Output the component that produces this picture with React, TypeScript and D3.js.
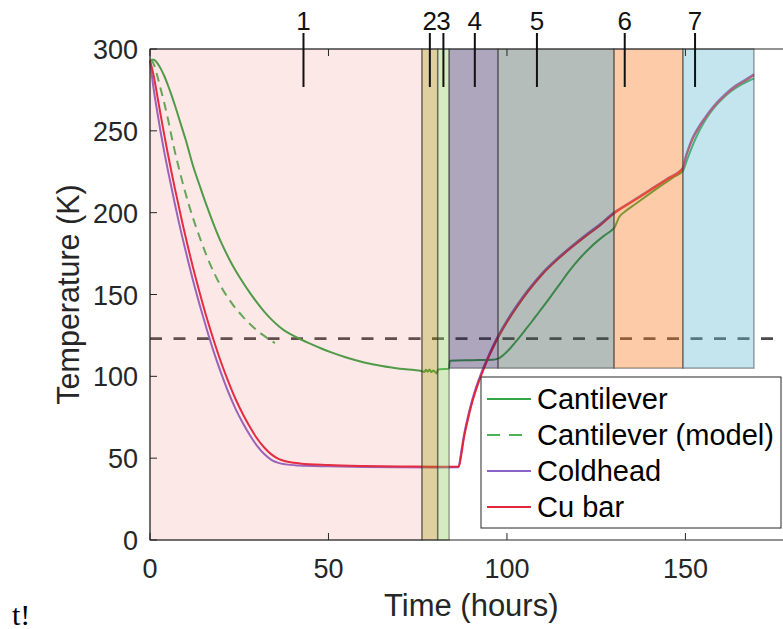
import React from 'react';
import * as d3 from 'd3';

// [time (h), temperature (K)]
const cantilever: [number, number][] = [
  [0, 292.5], [0.5, 293.5], [1, 293.5], [1.5, 292.8], [2, 291.5], [3, 288], [4, 283.5], [5, 278],
  [6, 272], [7, 265.5], [8, 258.5], [9, 251.5], [10, 244.5], [12, 229], [14, 216], [16, 203.5],
  [18, 192], [20, 181.5], [22, 172.5], [24, 164.5], [26, 157.5], [28, 151], [30, 145], [32, 139.5],
  [34, 134.8], [36, 130.8], [38, 127.5], [40, 125], [42, 122.8], [45, 119.8], [48, 117], [51, 114.5],
  [55, 111.5], [60, 108.5], [65, 106.3], [70, 104.7], [76, 103.3], [76.8, 102.6], [77.3, 104],
  [77.8, 102.8], [78.3, 104.2], [78.8, 102.6], [79.4, 103.5], [80.3, 101.8], [80.7, 104.2],
  [83.7, 104.7], [84, 109.5], [90, 109.9], [96, 110.2], [97.5, 110.8], [99, 113], [101, 117.3],
  [103, 122.5], [105, 128], [107, 133.5], [109, 139.3], [111, 145], [113, 151], [115, 157],
  [117, 163], [119, 168.5], [121, 173.5], [123, 178], [125, 182], [127, 185.5], [129, 188.7],
  [130, 190.5], [131.5, 197.5], [133, 200.5], [136, 205.3], [140, 211.6], [144, 217.7], [147, 222.1],
  [149.3, 225.5], [150.5, 232.5], [152, 241], [154, 250.5], [156, 258], [158, 264], [160, 268.8],
  [162, 272.8], [164, 276], [166, 278.7], [168, 280.8], [169.2, 282],
];

const cantileverModel: [number, number][] = [
  [0, 293], [0.5, 292.8], [1, 291], [1.5, 288], [2, 284], [3, 275.5], [4, 267], [5, 257.5],
  [6, 247], [7, 237], [8, 228], [9, 219.5], [10, 211.5], [12, 197], [14, 184.5], [16, 173],
  [18, 163], [20, 154.5], [22, 147.5], [24, 141.5], [26, 136.5], [28, 132], [30, 128],
  [32, 124.7], [34, 121.6], [35, 120.3],
];

const coldhead: [number, number][] = [
  [0, 293], [0.5, 284], [1, 276], [2, 262], [3, 249], [4, 237], [5, 226], [6, 215.5], [7, 205],
  [8, 195], [9, 185.5], [10, 176.5], [12, 159], [14, 143], [16, 128], [18, 114], [20, 101.5],
  [22, 90], [24, 80], [26, 71.5], [28, 64], [30, 57.5], [32, 52.5], [34, 49], [36, 47.1],
  [38, 46.2], [42, 45.5], [50, 45], [60, 44.6], [70, 44.4], [80, 44.3], [86.4, 44.4],
  [87.1, 52.5], [87.9, 63.5], [88.9, 73.8], [89.9, 82.8], [90.9, 90.3], [91.9, 96.8],
  [92.9, 102.6], [93.9, 108], [94.9, 113], [95.9, 117.8], [97.9, 126.3], [99.9, 133.8],
  [102.9, 143.8], [105.9, 152.8], [109.9, 163.2], [113.9, 171.7], [117.9, 179.2], [121.9, 186.2],
  [125.9, 192.7], [129.9, 200], [135, 207], [140, 214], [145, 221], [149.3, 227.5], [150, 233.8],
  [151, 240.3], [152, 245.8], [153.5, 251.8], [155, 256.8], [157.7, 264.7], [161, 272.2],
  [164, 277.6], [167, 281.6], [169.2, 284.6],
];

const cuBar: [number, number][] = [
  [0, 293], [1, 284], [2, 272], [3, 259.5], [4, 247.5], [5, 236], [6, 225], [7, 214.5],
  [8, 204.5], [9, 194.5], [10, 185], [12, 167], [14, 150.5], [16, 135], [18, 121], [20, 108],
  [22, 96.5], [24, 86], [26, 77], [28, 69], [30, 62], [32, 56.5], [34, 52.3], [36, 49.6],
  [38, 48.1], [42, 46.8], [50, 45.8], [60, 45.2], [70, 44.9], [80, 44.8], [86.5, 44.9],
  [87.2, 52], [88, 63], [89, 73], [90, 82], [91, 89.5], [92, 96], [93, 101.8], [94, 107.2],
  [95, 112.3], [96, 117], [98, 125.5], [100, 133], [103, 143], [106, 152], [110, 162.5],
  [114, 171], [118, 178.5], [122, 185.5], [126, 192], [130, 199.5], [135, 206.5], [140, 213.5],
  [145, 220.5], [149.3, 227], [150, 233], [151, 239.5], [152, 245], [153.5, 251], [155, 256],
  [157.7, 264], [161, 271.5], [164, 277], [167, 281], [169.2, 284],
];

const phaseNames = ['1', '2', '3', '4', '5', '6', '7'];
const phaseStart = [0, 76.2, 80.6, 83.8, 97.5, 130, 149.3];
const phaseEnd = [76.2, 80.6, 83.8, 97.5, 130, 149.3, 169.2];
const phaseFloor = [0, 0, 0, 105, 105, 105, 105];
const phaseLabelAt = [43, 78.4, 82.2, 91, 108.4, 133, 152.7];
const thresholdK = 123;

const xTicks = [0, 50, 100, 150];
const yTicks = [0, 50, 100, 150, 200, 250, 300];

const phaseFill = [
  'rgb(242,101,101)', 'rgb(178,138,18)', 'rgb(148,208,98)', 'rgb(53,33,90)',
  'rgb(70,90,85)', 'rgb(250,125,38)', 'rgb(108,190,213)',
];
const phaseAlpha = [0.15, 0.4, 0.4, 0.4, 0.4, 0.4, 0.4];

const GREEN = '#35a444';
const GREEN_DASH = '#4db256';
const PURPLE = '#8c63c8';
const RED = '#e3243b';
const AXIS = '#262626';
const FONT = "'Liberation Sans', Arial, Helvetica, sans-serif";

const series = [
  { name: 'Cantilever', data: cantilever, color: GREEN, dash: null },
  { name: 'Cantilever (model)', data: cantileverModel, color: GREEN_DASH, dash: '9,6' },
  { name: 'Coldhead', data: coldhead, color: PURPLE, dash: null },
  { name: 'Cu bar', data: cuBar, color: RED, dash: null },
];

export default function App() {
  const W = 783;
  const H = 629;
  const x = d3.scaleLinear().domain([0, 180]).range([150, 792.5]);
  const y = d3.scaleLinear().domain([0, 300]).range([540, 49]);

  const line = d3
    .line<[number, number]>()
    .x((d) => x(d[0]))
    .y((d) => y(d[1]))
    .curve(d3.curveMonotoneX);

  const [x0, x1] = x.range();
  const [y0, y1] = y.range();

  // legend box
  const lgX = 481, lgY = 377, lgW = 300, lgH = 151;
  const rowH = 36;

  return (
    <svg
      width={W}
      height={H}
      style={{ position: 'absolute', left: 0, top: 0, background: '#fff' }}
      fontFamily={FONT}
    >
      <rect x={0} y={0} width={W} height={H} fill="#fff" />

      {/* threshold */}
      <line
        x1={x0} x2={x1} y1={y(thresholdK)} y2={y(thresholdK)}
        stroke="#4a4a4a" strokeWidth={2.8} strokeDasharray="12,11.5"
      />

      {/* data */}
      {series.map((s) => (
        <path
          key={s.name}
          d={line(s.data) || ''}
          fill="none"
          stroke={s.color}
          strokeWidth={2}
          strokeDasharray={s.dash || undefined}
        />
      ))}

      {/* phase patches drawn over the lines */}
      {phaseNames.map((p, i) => (
        <rect
          key={p}
          x={x(phaseStart[i])}
          y={y(300)}
          width={x(phaseEnd[i]) - x(phaseStart[i])}
          height={y(phaseFloor[i]) - y(300)}
          fill={phaseFill[i]}
          fillOpacity={phaseAlpha[i]}
          stroke="rgba(50,50,50,0.45)"
          strokeWidth={1.5}
        />
      ))}

      {/* axes box */}
      <line x1={x0} x2={x1} y1={y0} y2={y0} stroke={AXIS} strokeWidth={1} />
      <line x1={x0} x2={x1} y1={y1} y2={y1} stroke={AXIS} strokeWidth={1} />
      <line x1={x0} x2={x0} y1={y0} y2={y1} stroke={AXIS} strokeWidth={1} />

      {xTicks.map((t) => (
        <g key={'x' + t}>
          <line x1={x(t)} x2={x(t)} y1={y0} y2={y0 - 7} stroke={AXIS} />
          <line x1={x(t)} x2={x(t)} y1={y1} y2={y1 + 7} stroke={AXIS} />
          <text x={x(t)} y={y0 + 38} textAnchor="middle" fontSize={27} fill={AXIS}>
            {t}
          </text>
        </g>
      ))}
      {yTicks.map((t) => (
        <g key={'y' + t}>
          <line x1={x0} x2={x0 + 7} y1={y(t)} y2={y(t)} stroke={AXIS} />
          <text x={x0 - 12} y={y(t) + 10} textAnchor="end" fontSize={27} fill={AXIS}>
            {t}
          </text>
        </g>
      ))}

      <text x={(x0 + x1) / 2} y={616} textAnchor="middle" fontSize={31} fill={AXIS}>
        Time (hours)
      </text>
      <text
        transform={`translate(79,${(y0 + y1) / 2}) rotate(-90)`}
        textAnchor="middle"
        fontSize={30.5}
        fill={AXIS}
      >
        Temperature (K)
      </text>

      {/* phase labels */}
      {phaseNames.map((p, i) => (
        <g key={'l' + p}>
          <line
            x1={x(phaseLabelAt[i])} x2={x(phaseLabelAt[i])} y1={33} y2={87}
            stroke="#111" strokeWidth={2}
          />
          <text x={x(phaseLabelAt[i])} y={30} textAnchor="middle" fontSize={26} fill="#111">
            {p}
          </text>
        </g>
      ))}

      {/* legend */}
      <rect x={lgX} y={lgY} width={lgW} height={lgH} fill="#fff" stroke={AXIS} strokeWidth={1} />
      {series.map((s, i) => {
        const cy = lgY + 22 + i * rowH;
        return (
          <g key={'lg' + s.name}>
            <line
              x1={lgX + 6} x2={lgX + 50} y1={cy} y2={cy}
              stroke={s.color} strokeWidth={2}
              strokeDasharray={s.dash ? '13,9' : undefined}
            />
            <text x={lgX + 56} y={cy + 10} fontSize={29} fill="#000">
              {s.name}
            </text>
          </g>
        );
      })}

      <text x={12} y={625} fontFamily="'Liberation Serif', 'Times New Roman', serif" fontSize={30} fill="#000">
        t!
      </text>
    </svg>
  );
}
